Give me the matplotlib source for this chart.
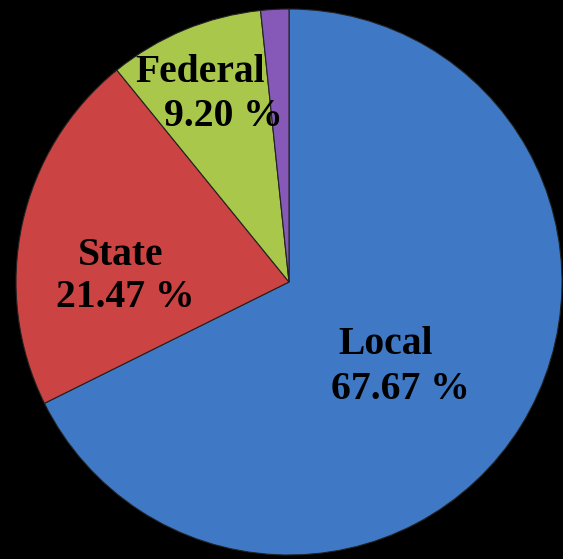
import matplotlib.pyplot as plt

# revenue sources, share of total (%)
labels = ["Local", "State", "Federal", "Other"]
shares = [67.67, 21.47, 9.20, 1.66]
colors = ["#3f78c4", "#cb4342", "#a9c84b", "#8658b8"]

W, H = 563, 559
fig = plt.figure(figsize=(W / 100, H / 100), dpi=100, facecolor="black")
ax = fig.add_axes([0, 0, 1, 1])
ax.set_facecolor("black")

cx, cy, r = 289, H - 282, 273
wedges, _ = ax.pie(shares, colors=colors, startangle=90, counterclock=False,
                   center=(cx, cy), radius=r,
                   wedgeprops=dict(edgecolor="#222222", linewidth=0.8))

# each label line: (text, centre x px, baseline y px from top)
label_lines = [
    ("Local", 386, 354), ("67.67 %", 400, 399),
    ("State", 121, 265), ("21.47 %", 125, 307),
    ("Federal", 200, 82), ("9.20 %", 223, 126),
]
for txt, px, py in label_lines:
    ax.text(px, H - py, txt, ha="center", va="baseline",
            fontsize=28.5, fontweight="bold", family="Liberation Serif",
            color="black")

ax.set_xlim(0, W)
ax.set_ylim(0, H)
ax.set_aspect("equal")
ax.axis("off")

plt.savefig("out.png", dpi=100, facecolor="black")
